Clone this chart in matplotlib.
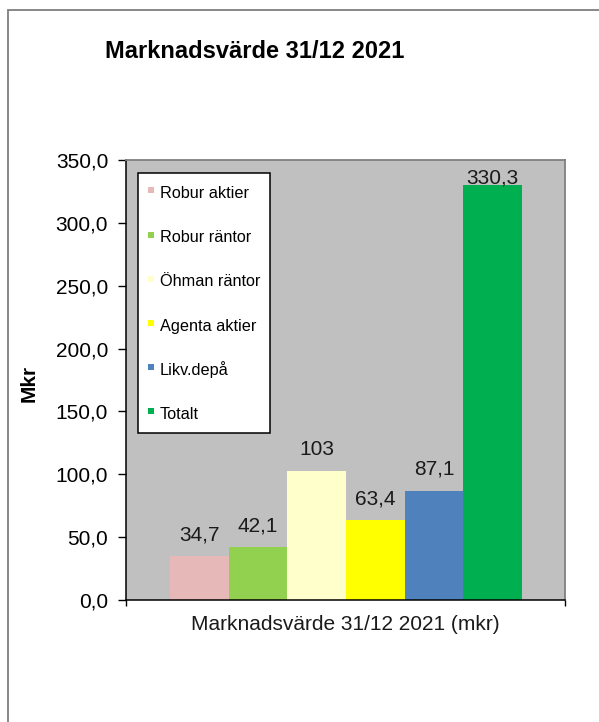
import matplotlib
matplotlib.use('Agg')
import matplotlib.pyplot as plt
from matplotlib.patches import Rectangle
from matplotlib.lines import Line2D

series = ['Robur aktier', 'Robur räntor', 'Öhman räntor', 'Agenta aktier', 'Likv.depå', 'Totalt']
values = [34.7, 42.1, 103.0, 63.4, 87.1, 330.3]
value_labels = ['34,7', '42,1', '103', '63,4', '87,1', '330,3']
colors = ['#E6B9B8', '#92D050', '#FFFFCC', '#FFFF00', '#4F81BD', '#00B050']
yticks = [0, 50, 100, 150, 200, 250, 300, 350]
category = 'Marknadsvärde 31/12 2021 (mkr)'

plt.rcParams['font.family'] = ['Liberation Sans', 'DejaVu Sans']

W, H = 599, 722
fig = plt.figure(figsize=(W / 100, H / 100), dpi=100)

# outer chart frame (only top/left visible in the reference)
fig.patches.append(Rectangle((8 / W, -0.05), 1.1, 1 - 10 / H + 0.05, transform=fig.transFigure,
                             fill=False, edgecolor='#7f7f7f', lw=1.3))

ax = fig.add_axes([126 / W, 122 / H, 439 / W, 440 / H])
ax.set_facecolor('#C0C0C0')

for i, (name, v, c) in enumerate(zip(series, values, colors)):
    ax.bar(i, v, width=1.0, color=c, label=name, zorder=2)

ax.set_xlim(-1.25, 6.23)
ax.set_ylim(0, 350)

# data labels, kept inside the plot area
for i, (v, lab) in enumerate(zip(values, value_labels)):
    y = min(v + 12.7, 331.5)
    ax.text(i, y, lab, ha='center', va='baseline', fontsize=15, color='#1a1a1a', zorder=3)

ax.set_yticks(yticks)
ax.set_yticklabels([f'{t:.1f}'.replace('.', ',') for t in yticks], fontsize=15)
ax.tick_params(axis='y', direction='out', length=5.8, width=1, pad=7, colors='black')
ax.set_xticks([-1.25, 6.23])
ax.set_xticklabels(['', ''])
ax.tick_params(axis='x', direction='out', length=4.5, width=1)

for s in ['top', 'right']:
    ax.spines[s].set_color('#808080')
    ax.spines[s].set_linewidth(1.3)
for s in ['left', 'bottom']:
    ax.spines[s].set_color('black')
    ax.spines[s].set_linewidth(1.1)

fig.text(345.5 / W, 1 - 625 / H, category, ha='center', va='center', fontsize=15, color='#1a1a1a')
fig.text(255 / W, 1 - 52 / H, 'Marknadsvärde 31/12 2021', ha='center', va='center',
         fontsize=17, fontweight='bold')
fig.text(29 / W, 1 - 383 / H, 'Mkr', rotation=90, ha='center', va='center',
         fontsize=15, fontweight='bold')

handles = [Line2D([], [], ls='', marker='s', markersize=5, color=c, markeredgewidth=0)
           for c in colors]
leg = ax.legend(handles, series, loc='upper left', bbox_to_anchor=(138 / W, 1 - 173 / H),
                bbox_transform=fig.transFigure, fontsize=11.7, frameon=True, fancybox=False,
                framealpha=1, edgecolor='black', borderpad=0.6, labelspacing=1.5,
                handlelength=0.45, handleheight=1.5, handletextpad=0.3, borderaxespad=0)
leg.get_frame().set_linewidth(1.1)
leg.set_zorder(5)

fig.savefig('out.png', dpi=100)
